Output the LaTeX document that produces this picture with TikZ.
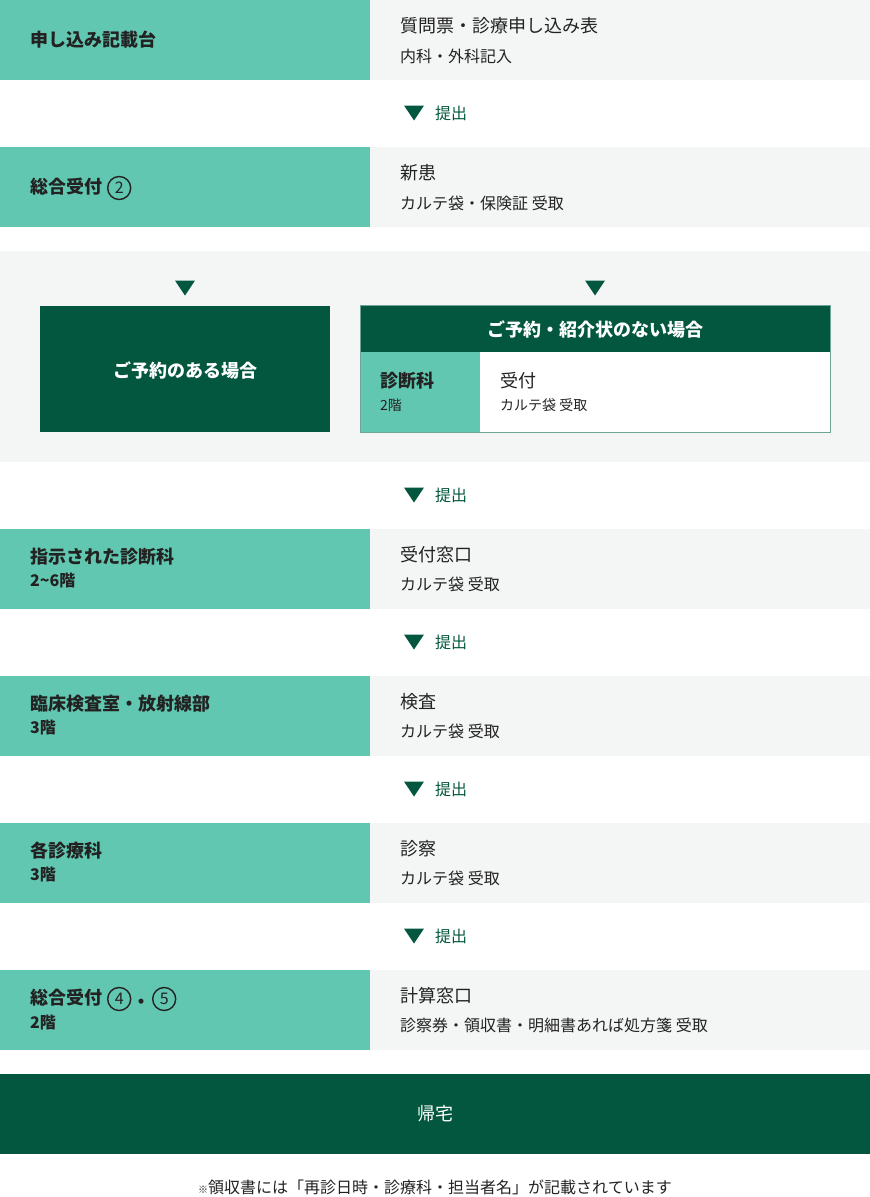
\documentclass[tikz,border=0pt]{standalone}
\usepackage{fontspec}
\setmainfont{Noto Sans CJK JP}
\definecolor{teal}{HTML}{62C7B1}
\definecolor{dg}{HTML}{03573E}
\definecolor{lg}{HTML}{F4F6F5}
\definecolor{ink}{HTML}{222222}
\definecolor{bord}{HTML}{6FA596}
\tikzset{
  lab/.style={font=\bfseries\fontsize{18}{21}\selectfont, text=ink, anchor=west, inner sep=0pt},
  labsub/.style={font=\bfseries\fontsize{16}{19}\selectfont, text=ink, anchor=west, inner sep=0pt},
  ttl/.style={font=\fontsize{18}{21}\selectfont, text=ink, anchor=west, inner sep=0pt},
  ttlsub/.style={font=\fontsize{16}{19}\selectfont, text=ink, anchor=west, inner sep=0pt},
  wtxt/.style={font=\bfseries\fontsize{18}{21}\selectfont, text=white, inner sep=0pt},
  tlbl/.style={font=\fontsize{16}{19}\selectfont, text=dg, anchor=west, inner sep=0pt},
  circnum/.style={circle, draw=ink, line width=1.4pt, minimum size=23pt, inner sep=0pt, anchor=west, text=ink, font=\fontsize{16}{19}\selectfont},
  tri/.style={fill=dg},
}
\newcommand{\marker}[2]{% x center, y center
  \fill[tri] ({#1-10},{#2-7.5}) -- ({#1+10},{#2-7.5}) -- (#1,{#2+7.5}) -- cycle;}
\begin{document}
\begin{tikzpicture}[x=1pt,y=-1pt]
\useasboundingbox (0,0) rectangle (870,1197);
% row 1
\fill[teal] (0,0) rectangle (370,80);
\fill[lg] (370,0) rectangle (870,80);
\node[lab] (r1l) at (30,40) {申し込み記載台};
\node[ttl] (r1t) at (400,26) {質問票・診療申し込み表};
\node[ttlsub] (r1s) at (400,56) {内科・外科記入};
\marker{414}{113}
\node[tlbl] (a1) at (435,113) {提出};
% row 2
\fill[teal] (0,147) rectangle (370,227);
\fill[lg] (370,147) rectangle (870,227);
\node[lab] (r2l) at (30,187) {総合受付};
\node[circnum] (c2) at (107,188) {2};
\node[ttl] (r2t) at (400,173) {新患};
\node[ttlsub] (r2s) at (400,203) {カルテ袋・保険証 受取};
% branch block
\fill[lg] (0,251) rectangle (870,462);
\marker{185}{288}
\marker{595}{288}
\fill[dg] (40,306) rectangle (330,432);
\node[wtxt] (yes) at (185,370) {ご予約のある場合};
\fill[white] (360,305) rectangle (830,432);
\fill[dg] (360,305) rectangle (830,352);
\fill[teal] (360,352) rectangle (480,432);
\draw[bord, line width=0.8pt] (360,305) rectangle (830,432);
\node[wtxt] (no) at (595,329) {ご予約・紹介状のない場合};
\node[lab] (sd) at (380,381) {診断科};
\node[labsub,font=\fontsize{14}{17}\selectfont] (sd2) at (380,405) {2階};
\node[ttl] (uk) at (500,381) {受付};
\node[ttlsub,font=\fontsize{14}{17}\selectfont] (uk2) at (500,405) {カルテ袋 受取};
\marker{414}{495}
\node[tlbl] (a2) at (435,495) {提出};
% row 3
\fill[teal] (0,529) rectangle (370,609);
\fill[lg] (370,529) rectangle (870,609);
\node[lab] (r3l) at (30,557) {指示された診断科};
\node[labsub] (r3l2) at (30,581) {2\textasciitilde6階};
\node[ttl] (r3t) at (400,555) {受付窓口};
\node[ttlsub] (r3s) at (400,584) {カルテ袋 受取};
\marker{414}{642}
\node[tlbl] (a3) at (435,642) {提出};
% row 4
\fill[teal] (0,676) rectangle (370,756);
\fill[lg] (370,676) rectangle (870,756);
\node[lab] (r4l) at (30,704) {臨床検査室・放射線部};
\node[labsub] (r4l2) at (30,728) {3階};
\node[ttl] (r4t) at (400,702) {検査};
\node[ttlsub] (r4s) at (400,731) {カルテ袋 受取};
\marker{414}{789}
\node[tlbl] (a4) at (435,789) {提出};
% row 5
\fill[teal] (0,823) rectangle (370,903);
\fill[lg] (370,823) rectangle (870,903);
\node[lab] (r5l) at (30,851) {各診療科};
\node[labsub] (r5l2) at (30,875) {3階};
\node[ttl] (r5t) at (400,849) {診察};
\node[ttlsub] (r5s) at (400,878) {カルテ袋 受取};
\marker{414}{936}
\node[tlbl] (a5) at (435,936) {提出};
% row 6
\fill[teal] (0,970) rectangle (370,1050);
\fill[lg] (370,970) rectangle (870,1050);
\node[lab] (r6l) at (30,998) {総合受付};
\node[circnum] (c4) at (107,999) {4};
\node[lab, anchor=center] (dot) at (141,1004) {・};
\node[circnum] (c5) at (152,999) {5};
\node[labsub] (r6l2) at (30,1023) {2階};
\node[ttl] (r6t) at (400,996) {計算窓口};
\node[ttlsub] (r6s) at (400,1025) {診察券・領収書・明細書あれば処方箋 受取};
% home
\fill[dg] (0,1074) rectangle (870,1154);
\node[wtxt,font=\fontsize{18}{21}\selectfont] (home) at (435,1114) {帰宅};
\node[font=\fontsize{16}{19}\selectfont, text=ink, inner sep=0pt] (note) at (435,1187) {{\fontsize{10}{12}\selectfont ※}領収書には「再診日時・診療科・担当者名」が記載されています};
\end{tikzpicture}
\end{document}
